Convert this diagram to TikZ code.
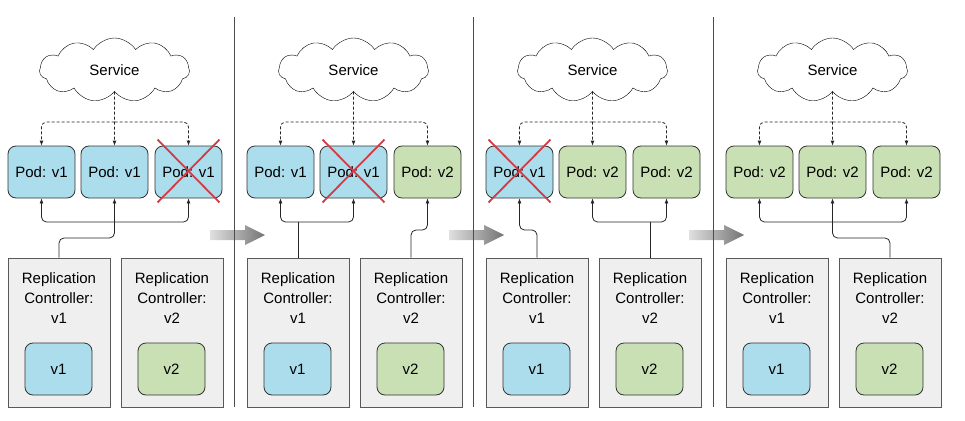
\documentclass[tikz,border=0pt]{standalone}
\usepackage{fontspec}
\setmainfont{Liberation Sans}
\usetikzlibrary{shapes.symbols, arrows.meta}

\definecolor{podblue}{HTML}{ABDDEC}
\definecolor{podgreen}{HTML}{C8E0B4}
\definecolor{rcgray}{HTML}{EFEFEF}
\definecolor{crossred}{HTML}{D43A46}

\begin{document}
\begin{tikzpicture}[x = 1pt, y = -1pt, font = \fontsize{15}{20}\selectfont,
	pod/.style = {draw = black!80, line width = 0.8pt, rounded corners = 8pt, minimum width = 67pt, minimum height = 52pt, inner sep = 0pt},
	blue/.style = {pod, fill = podblue},
	green/.style = {pod, fill = podgreen},
	rcbox/.style = {draw = black!65, line width = 0.8pt, fill = rcgray, minimum width = 102pt, minimum height = 149pt},
	rctext/.style = {align = center, inner sep = 0pt},
	service/.style = {draw, cloud, cloud puffs = 11, cloud puff arc = 115, cloud ignores aspect, minimum width = 150pt, minimum height = 64pt, fill = white},
	line/.style = {draw = black!85, line width = 0.8pt, rounded corners = 5pt},
	conn/.style = {line, -{Latex[length = 5pt, width = 4pt]}},
	dconn/.style = {conn, dash pattern = on 3pt off 2pt},
	cross/.style = {draw = crossred, line width = 1.8pt},
	bigarrow/.style = {left color = black!12, right color = black!55},
	divider/.style = {draw = black!70, line width = 0.8pt}]

	\useasboundingbox (0, 0) rectangle (965, 420);

	% arrows between the steps
	\shade[bigarrow] (210, 230) -- (245, 230) -- (245, 225) -- (265, 235) -- (245, 245) -- (245, 240) -- (210, 240) -- cycle;
	\shade[bigarrow] (449, 230) -- (484, 230) -- (484, 225) -- (504, 235) -- (484, 245) -- (484, 240) -- (449, 240) -- cycle;
	\shade[bigarrow] (689, 230) -- (724, 230) -- (724, 225) -- (744, 235) -- (724, 245) -- (724, 240) -- (689, 240) -- cycle;

	\draw[divider] (234, 17) -- (234, 407);
	\draw[divider] (473, 17) -- (473, 407);
	\draw[divider] (713, 17) -- (713, 407);

	% step 1
	\node[service] (S1) at (114.5, 70) {Service};
	\node[blue] (P11) at (41.5, 172) {Pod: v1};
	\node[blue] (P12) at (114.5, 172) {Pod: v1};
	\node[blue] (P13) at (188.5, 172) {Pod: v1};
	\node[rcbox] (R11) at (59, 332.5) {};
	\node[rcbox] (R12) at (172, 332.5) {};
	\node[rctext] (T11) at (59, 298) {Replication\\Controller:\\v1};
	\node[rctext] (T12) at (172, 298) {Replication\\Controller:\\v2};
	\node[blue] (I11) at (58.5, 369) {v1};
	\node[green] (I12) at (171.5, 369) {v2};
	\coordinate (d1) at (114.5, 122);
	\coordinate (k1) at (114.5, 238);
	\coordinate (b1) at (114.5, 222);

	\draw[dconn] (S1.south) -- (P12.north);
	\draw[dconn] (d1) -| (P11.north);
	\draw[dconn] (d1) -| (P13.north);
	\draw[line] (R11.north) |- (k1) -- (b1);
	\draw[conn] (b1) -- (P12.south);
	\draw[conn] (b1) -| (P11.south);
	\draw[conn] (b1) -| (P13.south);
	\draw[cross] ([xshift = 3pt, yshift = 6pt]P13.north west) -- ([xshift = -3pt, yshift = -4pt]P13.south east);
	\draw[cross] ([xshift = -3pt, yshift = 6pt]P13.north east) -- ([xshift = 3pt, yshift = -4pt]P13.south west);

	% step 2
	\node[service] (S2) at (353.5, 70) {Service};
	\node[blue] (P21) at (280.5, 172) {Pod: v1};
	\node[blue] (P22) at (353.5, 172) {Pod: v1};
	\node[green] (P23) at (427.5, 172) {Pod: v2};
	\node[rcbox] (R21) at (298, 332.5) {};
	\node[rcbox] (R22) at (411, 332.5) {};
	\node[rctext] (T21) at (298, 298) {Replication\\Controller:\\v1};
	\node[rctext] (T22) at (411, 298) {Replication\\Controller:\\v2};
	\node[blue] (I21) at (297.5, 369) {v1};
	\node[green] (I22) at (410.5, 369) {v2};
	\coordinate (d2) at (353.5, 122);
	\coordinate (b2) at (298, 222);
	\coordinate (c2) at (427.5, 230);

	\draw[dconn] (S2.south) -- (P22.north);
	\draw[dconn] (d2) -| (P21.north);
	\draw[dconn] (d2) -| (P23.north);
	\draw[line] (R21.north) -- (b2);
	\draw[conn] (b2) -| (P21.south);
	\draw[conn] (b2) -| (P22.south);
	\draw[conn] (R22.north) |- (c2) -- (P23.south);
	\draw[cross] ([xshift = 3pt, yshift = 6pt]P22.north west) -- ([xshift = -3pt, yshift = -4pt]P22.south east);
	\draw[cross] ([xshift = -3pt, yshift = 6pt]P22.north east) -- ([xshift = 3pt, yshift = -4pt]P22.south west);

	% step 3
	\node[service] (S3) at (592.5, 70) {Service};
	\node[blue] (P31) at (519.5, 172) {Pod: v1};
	\node[green] (P32) at (592.5, 172) {Pod: v2};
	\node[green] (P33) at (666.5, 172) {Pod: v2};
	\node[rcbox] (R31) at (537, 332.5) {};
	\node[rcbox] (R32) at (650, 332.5) {};
	\node[rctext] (T31) at (537, 298) {Replication\\Controller:\\v1};
	\node[rctext] (T32) at (650, 298) {Replication\\Controller:\\v2};
	\node[blue] (I31) at (536.5, 369) {v1};
	\node[green] (I32) at (649.5, 369) {v2};
	\coordinate (d3) at (592.5, 122);
	\coordinate (c3) at (519.5, 230);
	\coordinate (b3) at (650, 222);

	\draw[dconn] (S3.south) -- (P32.north);
	\draw[dconn] (d3) -| (P31.north);
	\draw[dconn] (d3) -| (P33.north);
	\draw[conn] (R31.north) |- (c3) -- (P31.south);
	\draw[line] (R32.north) -- (b3);
	\draw[conn] (b3) -| (P32.south);
	\draw[conn] (b3) -| (P33.south);
	\draw[cross] ([xshift = 3pt, yshift = 6pt]P31.north west) -- ([xshift = -3pt, yshift = -4pt]P31.south east);
	\draw[cross] ([xshift = -3pt, yshift = 6pt]P31.north east) -- ([xshift = 3pt, yshift = -4pt]P31.south west);

	% step 4
	\node[service] (S4) at (832.5, 70) {Service};
	\node[green] (P41) at (759.5, 172) {Pod: v2};
	\node[green] (P42) at (832.5, 172) {Pod: v2};
	\node[green] (P43) at (906.5, 172) {Pod: v2};
	\node[rcbox] (R41) at (777, 332.5) {};
	\node[rcbox] (R42) at (890, 332.5) {};
	\node[rctext] (T41) at (777, 298) {Replication\\Controller:\\v1};
	\node[rctext] (T42) at (890, 298) {Replication\\Controller:\\v2};
	\node[blue] (I41) at (776.5, 369) {v1};
	\node[green] (I42) at (889.5, 369) {v2};
	\coordinate (d4) at (832.5, 122);
	\coordinate (k4) at (832.5, 238);
	\coordinate (b4) at (832.5, 222);

	\draw[dconn] (S4.south) -- (P42.north);
	\draw[dconn] (d4) -| (P41.north);
	\draw[dconn] (d4) -| (P43.north);
	\draw[line] (R42.north) |- (k4) -- (b4);
	\draw[conn] (b4) -- (P42.south);
	\draw[conn] (b4) -| (P41.south);
	\draw[conn] (b4) -| (P43.south);

\end{tikzpicture}
\end{document}
